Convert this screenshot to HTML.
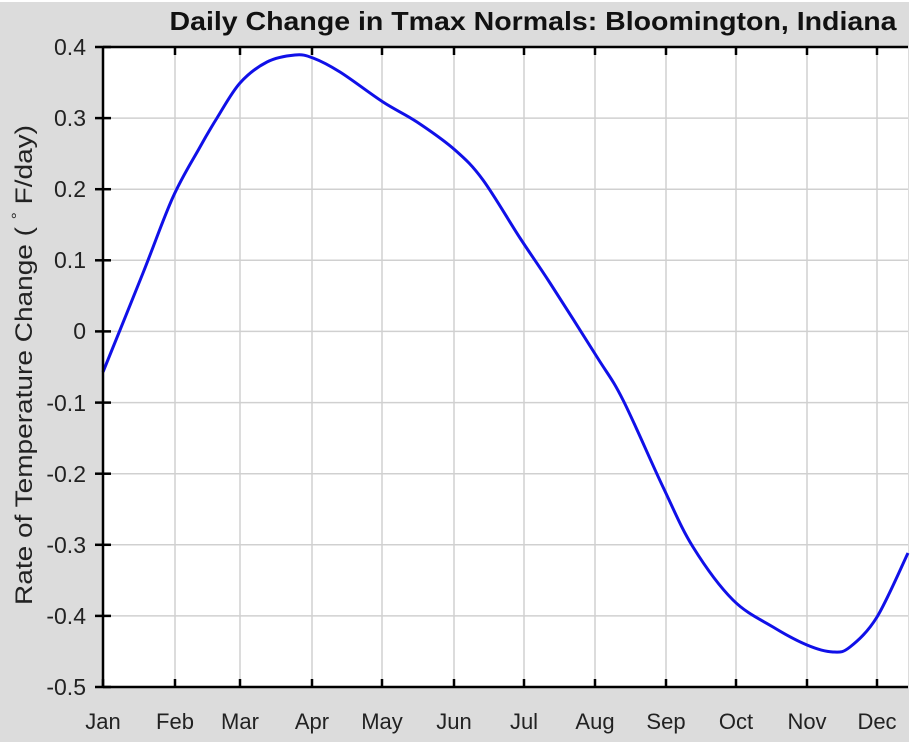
<!DOCTYPE html>
<html><head><style>
html,body{margin:0;padding:0;background:#fff}
svg{display:block;font-family:"Liberation Sans",sans-serif}
</style></head><body>
<svg width="921" height="742" viewBox="0 0 921 742" xmlns="http://www.w3.org/2000/svg">
<rect x="0" y="2" width="909" height="740" fill="#dcdcdc"/>
<rect x="103" y="47" width="805" height="640" fill="#fff"/>
<g stroke="#d0d0d0" stroke-width="1.5">
<line x1="175" y1="47" x2="175" y2="687"/><line x1="240" y1="47" x2="240" y2="687"/>
<line x1="312" y1="47" x2="312" y2="687"/><line x1="382" y1="47" x2="382" y2="687"/>
<line x1="454" y1="47" x2="454" y2="687"/><line x1="524" y1="47" x2="524" y2="687"/>
<line x1="595" y1="47" x2="595" y2="687"/><line x1="666" y1="47" x2="666" y2="687"/>
<line x1="736" y1="47" x2="736" y2="687"/><line x1="807" y1="47" x2="807" y2="687"/>
<line x1="877" y1="47" x2="877" y2="687"/>
<line x1="103" y1="118.1" x2="908" y2="118.1"/><line x1="103" y1="189.2" x2="908" y2="189.2"/>
<line x1="103" y1="260.3" x2="908" y2="260.3"/><line x1="103" y1="331.4" x2="908" y2="331.4"/>
<line x1="103" y1="402.6" x2="908" y2="402.6"/><line x1="103" y1="473.7" x2="908" y2="473.7"/>
<line x1="103" y1="544.8" x2="908" y2="544.8"/><line x1="103" y1="615.9" x2="908" y2="615.9"/>
</g>
<path fill="none" stroke="#1010e8" stroke-width="3" d="M103,372 C109.7,355.5 131.3,302.2 143,273 C154.7,243.8 163.5,218 173,197 C182.5,176 192.7,160.2 200,147 C207.3,133.8 210.3,128.7 217,118 C223.7,107.3 231.7,92.3 240,83 C248.3,73.7 257.8,66.7 267,62 C276.2,57.3 287.3,55.7 295,55 C302.7,54.3 305.5,55.2 313,58 C320.5,60.8 328.3,64.7 340,72 C351.7,79.3 370.2,93.7 383,102 C395.8,110.3 405,114 417,122 C429,130 444,140.3 455,150 C466,159.7 472.2,165.3 483,180 C493.8,194.7 508.8,220.8 520,238 C531.2,255.2 537.2,263.2 550,283 C562.8,302.8 584.8,337.5 597,357 C609.2,376.5 612,378.3 623,400 C634,421.7 651.3,462.5 663,487 C674.7,511.5 681.3,528.2 693,547 C704.7,565.8 719.7,586.7 733,600 C746.3,613.3 760.7,619.5 773,627 C785.3,634.5 797,640.8 807,645 C817,649.2 825.8,651.7 833,652 C840.2,652.3 842.7,652.8 850,647 C857.3,641.2 867.3,632.7 877,617 C886.7,601.3 902.8,563.7 908,553"/>
<g stroke="#000" stroke-width="2.5" fill="none">
<line x1="103" y1="47" x2="908" y2="47"/>
<line x1="103" y1="687" x2="908" y2="687"/>
<line x1="103" y1="46" x2="103" y2="688"/>
</g>
<g stroke="#000" stroke-width="2.5">
<line x1="103" y1="687" x2="103" y2="679"/><line x1="175" y1="687" x2="175" y2="679"/>
<line x1="240" y1="687" x2="240" y2="679"/><line x1="312" y1="687" x2="312" y2="679"/>
<line x1="382" y1="687" x2="382" y2="679"/><line x1="454" y1="687" x2="454" y2="679"/>
<line x1="524" y1="687" x2="524" y2="679"/><line x1="595" y1="687" x2="595" y2="679"/>
<line x1="666" y1="687" x2="666" y2="679"/><line x1="736" y1="687" x2="736" y2="679"/>
<line x1="807" y1="687" x2="807" y2="679"/><line x1="877" y1="687" x2="877" y2="679"/>
<line x1="175" y1="47" x2="175" y2="55"/><line x1="240" y1="47" x2="240" y2="55"/>
<line x1="312" y1="47" x2="312" y2="55"/><line x1="382" y1="47" x2="382" y2="55"/>
<line x1="454" y1="47" x2="454" y2="55"/><line x1="524" y1="47" x2="524" y2="55"/>
<line x1="595" y1="47" x2="595" y2="55"/><line x1="666" y1="47" x2="666" y2="55"/>
<line x1="736" y1="47" x2="736" y2="55"/><line x1="807" y1="47" x2="807" y2="55"/>
<line x1="877" y1="47" x2="877" y2="55"/>
<line x1="95" y1="47" x2="111" y2="47"/><line x1="95" y1="118.1" x2="111" y2="118.1"/>
<line x1="95" y1="189.2" x2="111" y2="189.2"/><line x1="95" y1="260.3" x2="111" y2="260.3"/>
<line x1="95" y1="331.4" x2="111" y2="331.4"/><line x1="95" y1="402.6" x2="111" y2="402.6"/>
<line x1="95" y1="473.7" x2="111" y2="473.7"/><line x1="95" y1="544.8" x2="111" y2="544.8"/>
<line x1="95" y1="615.9" x2="111" y2="615.9"/><line x1="95" y1="687" x2="111" y2="687"/>
</g>
<g font-size="22" fill="#222" text-anchor="middle">
<text x="103" y="729">Jan</text><text x="175" y="729">Feb</text><text x="240" y="729">Mar</text>
<text x="312" y="729">Apr</text><text x="382" y="729">May</text><text x="454" y="729">Jun</text>
<text x="524" y="729">Jul</text><text x="595" y="729">Aug</text><text x="666" y="729">Sep</text>
<text x="736" y="729">Oct</text><text x="807" y="729">Nov</text><text x="877" y="729">Dec</text>
</g>
<g font-size="23" fill="#222" text-anchor="end">
<text x="86" y="55">0.4</text><text x="86" y="126">0.3</text><text x="86" y="197">0.2</text>
<text x="86" y="268">0.1</text><text x="86" y="339">0</text><text x="86" y="411">-0.1</text>
<text x="86" y="482">-0.2</text><text x="86" y="553">-0.3</text><text x="86" y="624">-0.4</text>
<text x="86" y="695">-0.5</text>
</g>
<text x="533" y="30" text-anchor="middle" font-size="26" font-weight="bold" fill="#111" textLength="727" lengthAdjust="spacingAndGlyphs">Daily Change in Tmax Normals: Bloomington, Indiana</text>
<text transform="translate(32,365) rotate(-90)" text-anchor="middle" font-size="24" fill="#222" textLength="480" lengthAdjust="spacingAndGlyphs">Rate of Temperature Change ( <tspan dy="-10" font-size="15">°</tspan><tspan dy="10"> F/day)</tspan></text>
</svg>
</body></html>
